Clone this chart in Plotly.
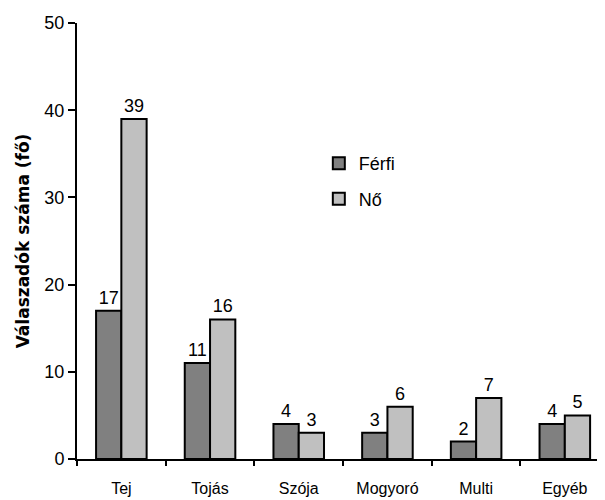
import plotly.graph_objects as go

categories = ["Tej", "Tojás", "Szója", "Mogyoró", "Multi", "Egyéb"]
ferfi = [17, 11, 4, 3, 2, 4]
no = [39, 16, 3, 6, 7, 5]
series_names = ["Férfi", "Nő"]
y_title = "Válaszadók száma (fő)"

FONT = "Liberation Sans, Arial, sans-serif"
TITLE_FONT = "DejaVu Sans, Liberation Sans, Arial, sans-serif"

fig = go.Figure()
fig.add_trace(go.Bar(
    x=categories, y=ferfi, name=series_names[0], legendgroup="a",
    marker=dict(color="#808080", line=dict(color="black", width=2)),
    text=[str(v) for v in ferfi], textposition="outside",
    textfont=dict(size=18, color="black"), cliponaxis=False,
))
fig.add_trace(go.Bar(
    x=categories, y=no, name=series_names[1], legendgroup="b",
    marker=dict(color="#c0c0c0", line=dict(color="black", width=2)),
    text=[str(v) for v in no], textposition="outside",
    textfont=dict(size=18, color="black"), cliponaxis=False,
))

# The page body adds an 8px offset, so the figure is sized 8px smaller
fig.update_layout(
    width=597, height=492,
    margin=dict(l=69, r=0, t=15, b=41),
    paper_bgcolor="white", plot_bgcolor="white",
    font=dict(family=FONT, color="black"),
    barmode="group", bargap=0.43, bargroupgap=0,
    showlegend=True,
    legend=dict(
        x=0.458, y=0.72, xanchor="left", yanchor="top",
        font=dict(size=18), bgcolor="rgba(0,0,0,0)",
        itemsizing="constant", tracegroupgap=9,
    ),
    xaxis=dict(
        range=[-0.5, 5.453], showline=True, linecolor="black", linewidth=2,
        ticks="outside", tickson="boundaries", ticklen=5, tickwidth=2, tickcolor="black",
        tickfont=dict(size=16), ticklabelstandoff=14, showgrid=False,
        automargin=False,
    ),
    yaxis=dict(
        range=[0, 50], tickvals=[0, 10, 20, 30, 40, 50],
        showline=True, linecolor="black", linewidth=2,
        ticks="outside", ticklen=7, tickwidth=2, tickcolor="black",
        tickfont=dict(size=18), showgrid=False, zeroline=False,
        title=dict(text="<b>" + y_title + "</b>",
                   font=dict(size=17, family=TITLE_FONT), standoff=10),
        automargin=False,
    ),
)

fig.write_html("out.html")
